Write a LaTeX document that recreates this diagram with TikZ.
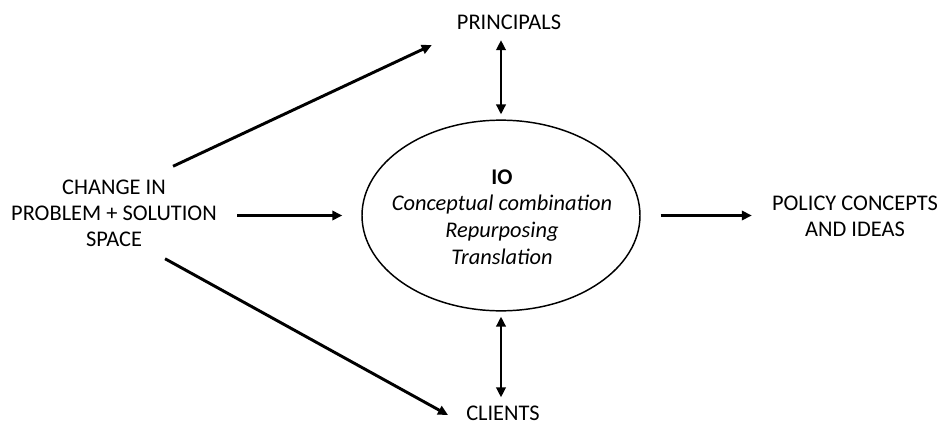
\documentclass[tikz,border=0pt]{standalone}
\usepackage{fontspec}
\setmainfont{Carlito}
\usetikzlibrary{arrows.meta, positioning, shapes.geometric, calc}

\begin{document}
\begin{tikzpicture}[
  x=0.75pt, y=-0.75pt,
  lbl/.style={align=center, font=\fontsize{16.8}{19.6}\selectfont, inner sep=0pt},
  ovalbox/.style={draw, ellipse, line width=1.1pt, minimum width=208.5pt, minimum height=143pt, inner sep=0pt},
  arr/.style={-{Triangle[length=7.5pt, width=7pt]}, line width=2.2pt},
  darr/.style={{Triangle[length=7.5pt, width=7pt]}-{Triangle[length=7.5pt, width=7pt]}, line width=2.2pt}
]
\useasboundingbox (0,0) rectangle (940,425);

\node[ovalbox] (io) at (501,215.5) {};
\node[lbl, font=\fontsize{16.8}{20}\selectfont] (iotext) at (502,217) {\textbf{IO}\\\textit{Conceptual combination}\\\textit{Repurposing}\\\textit{Translation}};
\node[lbl] (change) at (114,213) {CHANGE IN\\PROBLEM + SOLUTION\\SPACE};
\node[lbl] (policy) at (855,216) {POLICY CONCEPTS\\AND IDEAS};
\node[lbl] (principals) at (509,22.5) {PRINCIPALS};
\node[lbl] (clients) at (503,413) {CLIENTS};

\draw[arr, shorten <=20pt*0.75, shorten >=19pt*0.75] (change.east |- io) -- (io.west);
\draw[arr, shorten <=20pt*0.75] (io.east) -- ($(policy.west |- io)+(-20,0)$);
\draw[darr, shorten <=10*0.75pt, shorten >=5*0.75pt] (principals.south -| io) -- (io.north);
\draw[darr, shorten <=5*0.75pt, shorten >=8*0.75pt] (io.south) -- (clients.north -| io);
\draw[arr] ($(change.north east)+(-44,-13)$) -- ($(principals.south west)+(-25,15)$);
\draw[arr] ($(change.south east)+(-52,12)$) -- ($(clients.west)+(-18,2)$);
\end{tikzpicture}
\end{document}
